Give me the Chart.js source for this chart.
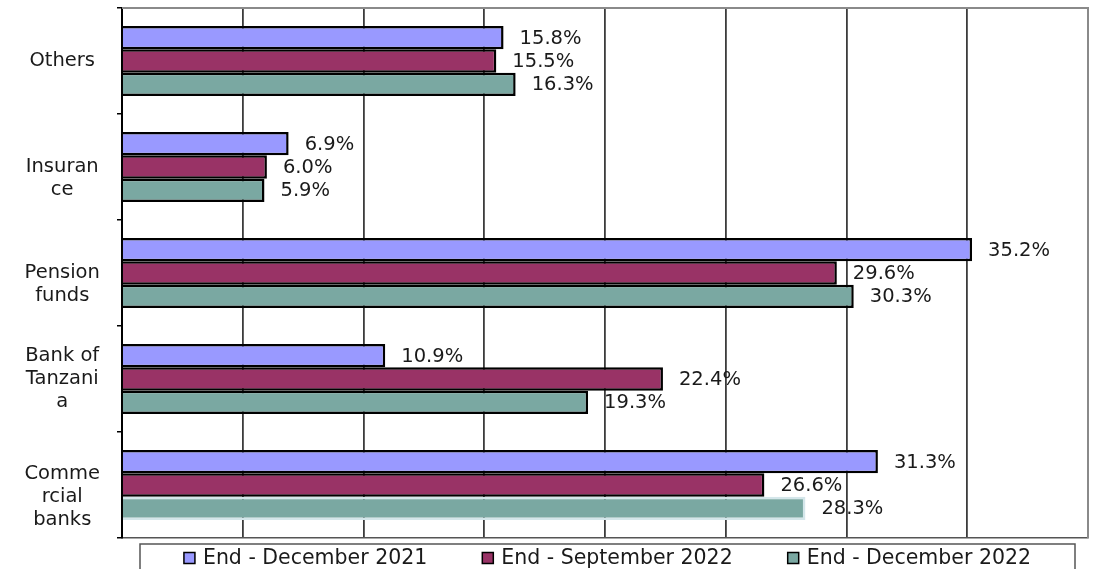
<!DOCTYPE html>
<html>
<head>
<meta charset="utf-8">
<script src="https://cdn.jsdelivr.net/npm/chart.js@4/dist/chart.umd.min.js"></script>
<style>
  html, body { margin: 0; padding: 0; background: #ffffff; overflow: hidden; }
  canvas { display: block; }
</style>
</head>
<body>
<canvas id="holders" width="1094" height="569"></canvas>
<script>
// Holder categories, top to bottom (wrapped as in the printed table)
const categories = [
  ['Others'],
  ['', 'Insuran', 'ce'],
  ['', 'Pension', 'funds'],
  ['Bank of', 'Tanzani', 'a'],
  ['', 'Comme', 'rcial', 'banks']
];

// Share of holdings by period, percent
const seriesNames = ['End - December 2021', 'End - September 2022', 'End - December 2022'];
const dec2021 = [15.8, 6.9, 35.2, 10.9, 31.3];
const sep2022 = [15.5, 6.0, 29.6, 22.4, 26.6];
const dec2022 = [16.3, 5.9, 30.3, 19.3, 28.3];

// Value axis
const axisMin = 0;
const axisMax = 40;
const axisStep = 5;

const FONT = '"DejaVu Sans", "Liberation Sans", Arial, sans-serif';
const seriesColors = ['#9999ff', '#993366', '#7aa8a2'];

// Percentage labels at the end of each bar
const valueLabels = {
  id: 'valueLabels',
  afterDatasetsDraw(chart) {
    const ctx = chart.ctx;
    ctx.save();
    ctx.font = '19.5px ' + FONT;
    ctx.fillStyle = '#1a1a1a';
    ctx.textAlign = 'left';
    ctx.textBaseline = 'middle';
    chart.data.datasets.forEach((ds, di) => {
      const meta = chart.getDatasetMeta(di);
      meta.data.forEach((bar, i) => {
        ctx.fillText(ds.data[i].toFixed(1) + '%', bar.x + 16, bar.y + 1);
      });
    });
    ctx.restore();
  }
};

// Grey frame around the plot area
const plotFrame = {
  id: 'plotFrame',
  beforeDatasetsDraw(chart) {
    const a = chart.chartArea;
    const ctx = chart.ctx;
    ctx.save();
    ctx.strokeStyle = '#8a8a8a';
    ctx.lineWidth = 2;
    ctx.beginPath();
    ctx.moveTo(a.left, a.top);
    ctx.lineTo(a.right, a.top);
    ctx.lineTo(a.right, a.bottom);
    ctx.stroke();
    ctx.restore();
  }
};

// Boxed legend under the plot
const boxedLegend = {
  id: 'boxedLegend',
  afterDraw(chart) {
    const ctx = chart.ctx;
    const boxL = 140, boxR = 1075, boxT = 544;
    ctx.save();
    ctx.strokeStyle = '#555555';
    ctx.lineWidth = 1.5;
    ctx.strokeRect(boxL, boxT, boxR - boxL, 40);

    ctx.font = '20.5px ' + FONT;
    ctx.textBaseline = 'middle';
    ctx.textAlign = 'left';
    const sq = 11, sqGap = 8, itemGap = 55;
    const items = chart.data.datasets.map(ds => ({
      text: ds.label, color: ds.backgroundColor, w: ctx.measureText(ds.label).width
    }));
    const total = items.reduce((s, it) => s + sq + sqGap + it.w, 0) + itemGap * (items.length - 1);
    let x = (boxL + boxR) / 2 - total / 2;
    const cy = 558;
    items.forEach(it => {
      ctx.fillStyle = it.color;
      ctx.fillRect(x, cy - sq / 2, sq, sq);
      ctx.strokeStyle = '#000000';
      ctx.lineWidth = 1.5;
      ctx.strokeRect(x, cy - sq / 2, sq, sq);
      ctx.fillStyle = '#1a1a1a';
      ctx.fillText(it.text, x + sq + sqGap, cy + 1);
      x += sq + sqGap + it.w + itemGap;
    });
    ctx.restore();
  }
};

new Chart(document.getElementById('holders'), {
  type: 'bar',
  data: {
    labels: categories,
    datasets: [
      { label: seriesNames[0], data: dec2021, backgroundColor: seriesColors[0],
        borderColor: '#000000', borderWidth: 2.5 },
      { label: seriesNames[1], data: sep2022, backgroundColor: seriesColors[1],
        borderColor: '#000000', borderWidth: 2.5 },
      { label: seriesNames[2], data: dec2022, backgroundColor: seriesColors[2],
        borderColor: ['#000000', '#000000', '#000000', '#000000', '#d4e6ea'], borderWidth: 2.5 }
    ]
  },
  options: {
    indexAxis: 'y',
    responsive: false,
    animation: false,
    devicePixelRatio: 1,
    categoryPercentage: 0.66,
    barPercentage: 1.0,
    layout: { padding: { top: 8, right: 6, left: 0, bottom: 0 } },
    plugins: {
      legend: { display: false },
      title: { display: false },
      tooltip: { enabled: false }
    },
    scales: {
      x: {
        min: axisMin,
        max: axisMax,
        afterFit(scale) {
          scale.height = 31;
          scale.paddingLeft = 0;
          scale.paddingRight = 0;
        },
        ticks: { display: false, stepSize: axisStep },
        grid: { color: '#3c3c3c', lineWidth: 1.8, drawTicks: false },
        border: { display: true, color: '#555555', width: 1.5 }
      },
      y: {
        afterFit(scale) {
          scale.width = 122;
          scale.paddingTop = 0;
          scale.paddingBottom = 0;
        },
        ticks: {
          crossAlign: 'center',
          padding: 17,
          color: '#1a1a1a',
          font: { family: FONT, size: 19.5, lineHeight: 1.18 }
        },
        grid: { drawOnChartArea: false, drawTicks: true, tickLength: 5, color: '#000000', lineWidth: 1.5 },
        border: { display: true, color: '#000000', width: 2 }
      }
    }
  },
  plugins: [plotFrame, valueLabels, boxedLegend]
});
</script>
</body>
</html>
